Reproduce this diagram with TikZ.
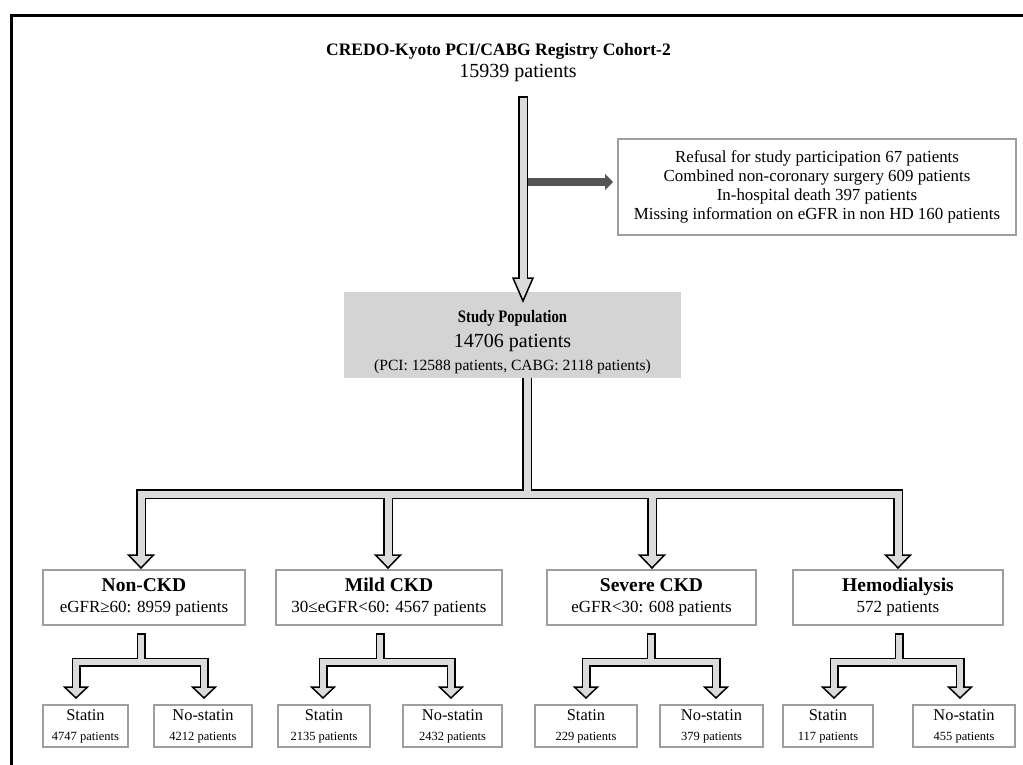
\documentclass[tikz,border=0pt]{standalone}
\usepackage{fontspec}
\setmainfont{Liberation Serif}
\usetikzlibrary{arrows.meta,calc}
\definecolor{shaftc}{gray}{0.86}
\definecolor{sidec}{gray}{0.33}
\definecolor{spfill}{gray}{0.83}
\definecolor{boxline}{gray}{0.62}
\newcommand\headtri[4]{\filldraw[fill=shaftc,draw=black,line width=#4,line join=miter] ($(#1)+(-#2,-#3)$) -- (#1) -- ($(#1)+(#2,-#3)$) -- cycle;}
\newcommand\catname[1]{{\bfseries\fontsize{19.5}{21}\selectfont #1}}
\newcommand\leafname[1]{{\fontsize{16.4}{20}\selectfont #1}}
\begin{document}
\begin{tikzpicture}[x=1pt,y=-1pt,
  box/.style={draw=boxline, line width=1.3pt, fill=white, inner sep=0pt, align=center},
  catbox/.style={box, minimum height=55pt, font=\fontsize{17}{21}\selectfont},
  leafbox/.style={box, minimum height=42pt, font=\fontsize{12.5}{20}\selectfont},
  outl/.style={draw=black, line join=miter, line cap=butt},
  innr/.style={draw=shaftc, line join=miter, line cap=butt}]
\useasboundingbox (0,0) rectangle (1023,764);
% frame
\draw[line width=3pt, line join=miter] (11.3,790) -- (11.3,15) -- (1050,15);

% title
\node[font=\bfseries\fontsize{17.5}{21}\selectfont, anchor=base, inner sep=0pt] (title) at (498.5,55) {CREDO-Kyoto PCI/CABG Registry Cohort-2};
\node[font=\fontsize{20}{24}\selectfont, anchor=base, inner sep=0pt] (src) at (518,77) {15939 patients};

% exclusion box
\node[box, minimum width=398pt, minimum height=96pt, font=\fontsize{16.9}{19}\selectfont] (excl) at (817,187)
 {Refusal for study participation 67 patients\\ Combined non-coronary surgery 609 patients\\ In-hospital death 397 patients\\ Missing information on eGFR in non HD 160 patients};

% study population
\node[fill=spfill, minimum width=337pt, minimum height=86pt, inner sep=0pt] (sp) at (512.5,335) {};
\node[align=center, inner sep=0pt, font=\fontsize{20}{25}\selectfont] (sptxt) at ($(sp.center)+(0,7)$)
 {\scalebox{0.84}[1]{\bfseries\fontsize{17.5}{25}\selectfont Study Population}\\ 14706 patients\\[-2pt] {\fontsize{15.6}{23}\selectfont (PCI: 12588 patients, CABG: 2118 patients)}};

% categories
\node[catbox, minimum width=202pt] (nonckd) at (144,597.5) {\catname{Non-CKD}\\ eGFR≥60: 8959 patients};
\node[catbox, minimum width=226pt] (mild) at (389,597.5) {\catname{Mild CKD}\\ 30≤eGFR<60: 4567 patients};
\node[catbox, minimum width=209pt] (severe) at (651.5,597.5) {\catname{Severe CKD}\\ eGFR<30: 608 patients};
\node[catbox, minimum width=210pt] (hd) at (898,597.5) {\catname{Hemodialysis}\\ 572 patients};

% leaves
\node[leafbox, minimum width=85pt] (s1) at (85.5,726) {\leafname{Statin}\\ 4747 patients};
\node[leafbox, minimum width=98pt] (n1) at (203,726) {\leafname{No-statin}\\ 4212 patients};
\node[leafbox, minimum width=92pt] (s2) at (324,726) {\leafname{Statin}\\ 2135 patients};
\node[leafbox, minimum width=99pt] (n2) at (452.5,726) {\leafname{No-statin}\\ 2432 patients};
\node[leafbox, minimum width=102pt] (s3) at (586,726) {\leafname{Statin}\\ 229 patients};
\node[leafbox, minimum width=103pt] (n3) at (711.5,726) {\leafname{No-statin}\\ 379 patients};
\node[leafbox, minimum width=90pt] (s4) at (828,726) {\leafname{Statin}\\ 117 patients};
\node[leafbox, minimum width=102pt] (n4) at (964,726) {\leafname{No-statin}\\ 455 patients};

% ---- main vertical arrow
\coordinate (m0) at (523,96);
\coordinate (mbase) at (523,278);
\coordinate (mtip) at (523,301);
\draw[outl, line width=10pt] (m0) -- (mbase);
\headtri{mtip}{10}{23}{1.5pt}
\draw[innr, line width=7pt] ($(m0)+(0,1.5)$) -- ($(mbase)+(0,1.5)$);

% side arrow to exclusions
\coordinate (sideS) at (528,182);
\coordinate (sideE) at (613,182);
\draw[sidec, line width=8pt, -{Triangle[length=8pt,width=16pt]}] (sideS) -- (sideE);

% ---- main distribution tree
\coordinate (t0) at ($(sp.south)+(14.5,0)$);
\coordinate (tb) at (527,494);
\draw[outl, line width=10pt] (141,555) |- (898,494) -- (898,555);
\draw[outl, line width=10pt] (t0) -- (tb);
\draw[outl, line width=10pt] (388,494) -- (388,555);
\draw[outl, line width=10pt] (652,494) -- (652,555);
\foreach \x in {141,388,652,898}{
  \coordinate (tip) at (\x,568);
  \headtri{tip}{12.5}{13}{1.5pt}
}
\draw[innr, line width=7pt] (141,556.5) |- (898,494) -- (898,556.5);
\draw[innr, line width=7pt] (t0) -- (tb);
\draw[innr, line width=7pt] (388,494) -- (388,556.5);
\draw[innr, line width=7pt] (652,494) -- (652,556.5);

% ---- sub trees
\foreach \sx/\lx/\rx in {141/76/204, 380/323/451, 651/586/716, 899/834/960}{
  \draw[outl, line width=9pt] (\lx,687) |- (\rx,662) -- (\rx,687);
  \draw[outl, line width=9pt] (\sx,633) -- (\sx,662);
  \coordinate (lt) at (\lx,698);
  \coordinate (rt) at (\rx,698);
  \headtri{lt}{11.5}{11}{1.5pt}
  \headtri{rt}{11.5}{11}{1.5pt}
  \draw[innr, line width=6pt] (\lx,688.5) |- (\rx,662) -- (\rx,688.5);
  \draw[innr, line width=6pt] (\sx,634.5) -- (\sx,662);
}
\end{tikzpicture}
\end{document}
